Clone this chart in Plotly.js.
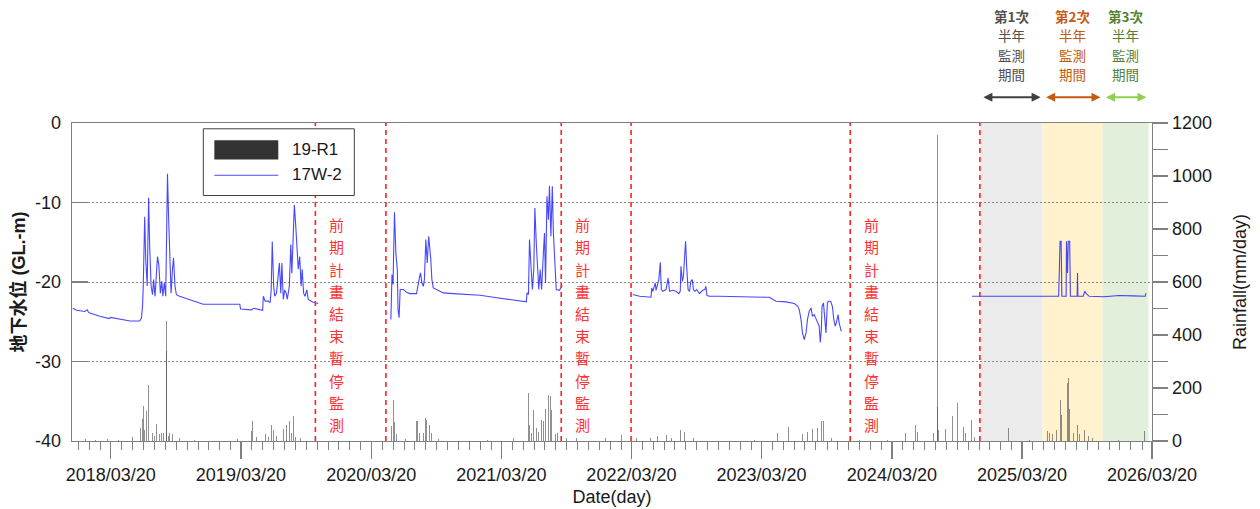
<!DOCTYPE html>
<html>
<head>
<meta charset="utf-8">
<script src="https://cdn.plot.ly/plotly-3.0.1.min.js"></script>
<style>html,body{margin:0;padding:0;background:#fff;}#chart{width:1260px;height:509px;}</style>
</head>
<body>
<div id="chart"></div>
<script>
// ---------------- DATA ----------------
// Groundwater level 17W-2 (GL.-m), four monitoring segments
const wl1Dates = ['2017-12-03','2017-12-14','2018-01-06','2018-01-13','2018-01-16','2018-01-20','2018-02-17','2018-03-15','2018-03-19','2018-04-14','2018-05-13','2018-06-09','2018-06-14','2018-06-17','2018-06-19','2018-06-23','2018-06-26','2018-06-30','2018-07-04','2018-07-07','2018-07-11','2018-07-15','2018-07-18','2018-07-22','2018-07-26','2018-07-29','2018-08-02','2018-08-06','2018-08-10','2018-08-13','2018-08-17','2018-08-21','2018-08-24','2018-08-26','2018-08-29','2018-09-01','2018-09-05','2018-09-09','2018-09-12','2018-09-16','2018-09-20','2018-09-29','2018-10-18','2018-11-15','2018-12-04','2019-01-20','2019-03-17','2019-03-19','2019-04-19','2019-04-24','2019-05-20','2019-05-22','2019-05-27','2019-06-05','2019-06-10','2019-06-13','2019-06-16','2019-06-20','2019-06-23','2019-06-28','2019-07-02','2019-07-06','2019-07-10','2019-07-13','2019-07-17','2019-07-21','2019-07-25','2019-07-28','2019-08-03','2019-08-07','2019-08-10','2019-08-14','2019-08-17','2019-08-21','2019-08-24','2019-08-28','2019-09-01','2019-09-05','2019-09-08','2019-09-12','2019-09-16','2019-09-21','2019-09-25','2019-10-09','2019-10-23'];
const wl1Vals = [-23.3,-23.55,-23.7,-23.5,-23.8,-23.9,-24.3,-24.6,-24.45,-24.7,-24.9,-24.9,-24.5,-23.0,-20.5,-11.8,-17.2,-20.5,-9.4,-15.5,-20.5,-21.6,-19.7,-21.8,-18.4,-16.8,-18.0,-21.4,-19.9,-21.8,-20.1,-21.8,-12.6,-6.4,-11.7,-17.2,-21.4,-18.4,-17.0,-20.5,-21.6,-21.8,-22.1,-22.55,-22.8,-22.8,-22.8,-23.4,-23.5,-23.3,-23.55,-21.8,-22.4,-22.4,-22.6,-21.0,-14.9,-20.5,-21.8,-21.4,-18.9,-17.6,-21.4,-17.6,-22.2,-21.0,-21.4,-22.2,-20.5,-15.3,-18.9,-12.6,-10.3,-13.0,-15.1,-18.4,-16.8,-20.5,-18.4,-21.4,-21.8,-21.0,-22.2,-22.55,-22.7];

const wl2Dates = ['2020-05-14','2020-05-17','2020-05-20','2020-05-24','2020-05-28','2020-06-01','2020-06-03','2020-06-06','2020-06-09','2020-06-18','2020-06-27','2020-07-06','2020-07-25','2020-07-28','2020-08-01','2020-08-05','2020-08-09','2020-08-13','2020-08-16','2020-08-20','2020-08-24','2020-08-28','2020-09-01','2020-09-03','2020-09-06','2020-09-10','2020-09-19','2020-10-08','2020-11-05','2020-12-13','2021-01-19','2021-02-26','2021-04-02','2021-05-10','2021-05-29','2021-05-31','2021-06-04','2021-06-07','2021-06-11','2021-06-15','2021-06-19','2021-06-22','2021-06-26','2021-06-30','2021-07-03','2021-07-07','2021-07-11','2021-07-15','2021-07-19','2021-07-22','2021-07-26','2021-07-30','2021-08-02','2021-08-06','2021-08-10','2021-08-13','2021-08-17','2021-08-21','2021-08-30','2021-09-04','2021-09-07'];
const wl2Vals = [-24.73,-19.07,-20.3,-11.23,-16.35,-18.44,-23.47,-24.5,-20.95,-20.95,-21.3,-21.46,-21.46,-20.54,-19.7,-18.86,-20.1,-20.54,-19.7,-14.67,-17.6,-14.25,-15.93,-17.18,-19.7,-20.74,-20.95,-21.37,-21.46,-21.58,-21.67,-21.92,-22.13,-22.34,-22.5,-21.37,-21.58,-14.67,-17.18,-20.95,-18.44,-10.69,-15.09,-19.7,-20.95,-18.44,-20.95,-17.18,-13.83,-20.1,-9.22,-12.16,-7.88,-14.25,-7.97,-13.83,-18.44,-20.95,-21.04,-20.74,-20.45];

const wl3Dates = ['2022-03-24','2022-04-12','2022-05-14','2022-05-16','2022-05-19','2022-05-23','2022-05-26','2022-05-28','2022-06-01','2022-06-05','2022-06-09','2022-06-12','2022-06-16','2022-06-25','2022-07-01','2022-07-05','2022-07-14','2022-07-23','2022-07-31','2022-08-04','2022-08-06','2022-08-10','2022-08-13','2022-08-17','2022-08-19','2022-08-22','2022-08-26','2022-08-30','2022-09-03','2022-09-07','2022-09-10','2022-09-14','2022-09-19','2022-09-27','2022-10-06','2022-10-12','2022-10-15','2022-10-18','2022-10-25','2022-11-22','2022-12-20','2023-01-17','2023-02-23','2023-04-02','2023-04-12','2023-04-21','2023-04-30','2023-05-28','2023-06-16','2023-06-20','2023-06-30','2023-07-04','2023-07-09','2023-07-13','2023-07-18','2023-07-23','2023-07-27','2023-08-01','2023-08-06','2023-08-10','2023-08-15','2023-08-20','2023-08-25','2023-08-29','2023-09-01','2023-09-04','2023-09-06','2023-09-10','2023-09-13','2023-09-17','2023-09-21','2023-09-24','2023-09-30','2023-10-05','2023-10-09','2023-10-13','2023-10-16','2023-10-21','2023-10-24','2023-10-30'];
const wl3Vals = [-21.58,-21.8,-21.92,-20.74,-21.17,-20.54,-20.11,-21.04,-20.33,-19.7,-17.52,-20.95,-21.17,-20.95,-19.5,-21.17,-21.04,-21.17,-21.46,-21.17,-18.03,-19.91,-19.28,-15.09,-14.88,-18.03,-20.95,-21.17,-19.91,-19.7,-20.95,-21.17,-20.95,-21.46,-21.04,-20.95,-20.54,-21.71,-21.8,-21.8,-21.8,-21.88,-21.88,-21.92,-21.92,-22.21,-22.42,-22.5,-22.63,-22.71,-23.05,-23.47,-24.73,-26.4,-27.24,-26.4,-24.73,-23.68,-23.26,-24.31,-24.1,-24.73,-25.14,-25.56,-27.6,-25.98,-23.05,-22.63,-24.73,-26.4,-22.63,-22.42,-22.42,-23.05,-24.73,-25.56,-25.14,-24.1,-25.14,-26.2];

const wl4Dates = ['2024-10-31','2025-07-01','2025-07-03','2025-07-05','2025-07-08','2025-07-10','2025-07-22','2025-07-23','2025-07-26','2025-07-28','2025-08-01','2025-08-03','2025-08-22','2025-08-23','2025-08-24','2025-09-08','2025-09-12','2025-09-17','2025-09-25','2025-11-05','2025-12-18','2026-01-24','2026-03-01','2026-03-03'];
const wl4Vals = [-21.8,-21.8,-18.44,-14.88,-14.88,-21.8,-21.8,-14.88,-18.86,-14.88,-14.88,-21.8,-21.8,-18.86,-21.8,-21.8,-21.17,-21.5,-21.8,-21.85,-21.7,-21.75,-21.8,-21.4];

// Daily rainfall 19-R1 (mm/day)
const rainDates = ['2018-01-07','2018-02-05','2018-03-10','2018-04-10','2018-05-20','2018-06-12','2018-06-17','2018-06-19','2018-06-22','2018-06-28','2018-07-03','2018-07-08','2018-07-11','2018-07-15','2018-07-20','2018-07-27','2018-08-04','2018-08-10','2018-08-15','2018-08-23','2018-08-24','2018-08-28','2018-09-01','2018-09-08','2018-09-29','2018-11-10',
'2019-03-10','2019-04-18','2019-04-22','2019-05-02','2019-05-10','2019-05-21','2019-05-27','2019-06-05','2019-06-13','2019-06-19','2019-06-28','2019-07-08','2019-07-18','2019-07-25','2019-08-03','2019-08-09','2019-08-15','2019-08-20','2019-09-03',
'2020-05-16','2020-05-21','2020-05-25','2020-05-29','2020-06-03','2020-06-23','2020-07-04','2020-07-15','2020-07-24','2020-07-28','2020-08-03','2020-08-13','2020-08-18','2020-08-22','2020-08-26','2020-08-31','2020-09-05','2020-09-15','2020-09-25',
'2021-02-10','2021-04-22','2021-05-28','2021-06-04','2021-06-07','2021-06-12','2021-06-19','2021-06-26','2021-07-03','2021-07-11','2021-07-17','2021-07-22','2021-07-30','2021-08-04','2021-08-08','2021-08-12','2021-08-18','2021-08-25','2021-09-19','2021-10-17','2021-12-19',
'2022-01-06','2022-02-20','2022-04-03','2022-05-12','2022-06-01','2022-06-26','2022-07-10','2022-08-05','2022-08-16','2022-09-10','2022-11-15',
'2023-03-01','2023-05-05','2023-06-03','2023-07-13','2023-07-23','2023-07-27','2023-08-06','2023-08-11','2023-08-25','2023-09-04','2023-09-09','2023-09-14','2023-10-03','2023-12-20',
'2024-03-08','2024-04-27','2024-05-26','2024-05-31','2024-07-14','2024-07-19','2024-07-25','2024-07-26','2024-07-28','2024-08-17','2024-09-06','2024-09-21','2024-10-06','2024-10-13','2024-10-30','2024-11-06',
'2025-02-10','2025-04-10','2025-05-31','2025-06-06','2025-06-13','2025-06-26','2025-07-06','2025-07-09','2025-07-16','2025-07-25','2025-07-29','2025-08-01','2025-08-12','2025-08-24','2025-08-29','2025-09-12','2025-09-23','2025-10-03','2025-12-16','2026-02-28'];
const rainMm = [8,5,8,5,15,50,83,131,40,113,213,40,25,30,20,65,25,30,30,339,452,20,30,28,10,5,
8,37,75,15,20,71,25,15,62,40,20,25,44,62,74,30,94,15,10,
56,156,70,25,30,8,10,15,74,75,30,30,87,80,70,62,30,30,8,
5,10,87,182,60,30,118,50,35,81,75,119,175,169,118,60,25,30,10,10,8,
10,24,10,12,20,22,10,40,35,10,5,
5,30,53,25,25,35,90,45,50,74,74,30,10,5,
5,30,62,35,30,81,1156,130,40,44,94,144,52,30,81,15,
50,5,37,30,25,40,153,100,25,220,238,120,30,62,25,43,20,10,5,37];

// Monitoring pauses (前期計畫結束暫停監測) and half-year monitoring periods
const pauseStart = ['2019-10-15','2021-09-04','2023-11-24'];
const pauseEnd   = ['2020-04-30','2022-03-19','2024-11-22'];
const periodBounds = ['2024-11-22','2025-05-17','2025-11-01','2026-03-10'];
const periodNames = ['第1次','第2次','第3次'];
const periodLines = ['半年','監測','期間'];
const pauseText = '前期計畫結束暫停監測';

const yTickVals = [-40,-30,-20,-10,0];
const yTickText = ['-40','-30','-20','-10','0'];

// ---------------- STYLE ----------------
const periodFill = ['#ebebeb','#fff2cc','#e2efda'];
const periodTextColor = ['#505050','#c55a11','#548235'];
const periodArrowColor = ['#404040','#c55a11','#92d050'];
const lineColor = 'rgba(0,0,255,0.72)';
const axisGray = '#808080';
const cjk = 'Noto Sans CJK TC, Noto Sans CJK SC, sans-serif';
const latin = 'Liberation Sans, Arial, sans-serif';
const PLOT_H = 318;

const traces = [];
traces.push({
  type:'bar', x:rainDates, y:rainMm, yaxis:'y2', name:'19-R1',
  width: 86400000*2.2,
  marker:{color:'rgba(70,70,70,0.6)', line:{width:0}},
  hoverinfo:'x+y'
});
[[wl1Dates,wl1Vals],[wl2Dates,wl2Vals],[wl3Dates,wl3Vals],[wl4Dates,wl4Vals]].forEach(function(s){
  traces.push({type:'scatter', mode:'lines', x:s[0], y:s[1], yaxis:'y', name:'17W-2',
    line:{color:lineColor, width:1.1}});
});

const shapes = [];
for (let i=0;i<3;i++){
  shapes.push({type:'rect', xref:'x', yref:'paper', x0:periodBounds[i], x1:periodBounds[i+1], y0:0, y1:1,
    fillcolor:periodFill[i], line:{width:0}, layer:'below'});
}
pauseStart.concat(pauseEnd).forEach(function(d){
  shapes.push({type:'line', xref:'x', yref:'paper', x0:d, x1:d, y0:0, y1:1,
    line:{color:'#ff2020', width:1.6, dash:'5px,4px'}, layer:'above'});
});
// custom legend box
shapes.push({type:'rect', xref:'paper', yref:'paper', x0:0.1216, x1:0.2614, y0:0.772, y1:0.9818,
  fillcolor:'#ffffff', line:{color:'#404040', width:1}, layer:'above'});
shapes.push({type:'rect', xref:'paper', yref:'paper', x0:0.1318, x1:0.1910, y0:0.8852, y1:0.9459,
  fillcolor:'#333333', line:{width:0}, layer:'above'});
shapes.push({type:'line', xref:'paper', yref:'paper', x0:0.1318, x1:0.1910, y0:0.8358, y1:0.8358,
  line:{color:lineColor, width:1.1}, layer:'above'});

const annotations = [];
annotations.push({xref:'paper', yref:'paper', x:0.2019, y:0.9167, xanchor:'left', yanchor:'middle',
  text:'19-R1', showarrow:false, font:{family:latin, size:17, color:'#1a1a1a'}});
annotations.push({xref:'paper', yref:'paper', x:0.2019, y:0.838, xanchor:'left', yanchor:'middle',
  text:'17W-2', showarrow:false, font:{family:latin, size:17, color:'#1a1a1a'}});

// vertical red text, one character per annotation
const chars = pauseText.split('');
pauseStart.forEach(function(d){
  chars.forEach(function(ch, k){
    annotations.push({xref:'x', yref:'paper', x:d, xshift:21, y:0.366 + (4.5-k)*22.2/PLOT_H,
      xanchor:'center', yanchor:'middle', text:ch, showarrow:false,
      font:{family:cjk, size:15, color:'#ff3333'}});
  });
});

function mid(a,b){ return new Date((Date.parse(a)+Date.parse(b))/2).toISOString().slice(0,10); }
for (let i=0;i<3;i++){
  const xm = mid(periodBounds[i],periodBounds[i+1]);
  const lines = ['<b>'+periodNames[i]+'</b>'].concat(periodLines);
  lines.forEach(function(t,k){
    annotations.push({xref:'x', yref:'paper', x:xm, y:(441.5-(16+19.6*k))/PLOT_H,
      xanchor:'center', yanchor:'middle', showarrow:false, text:t,
      font:{family:cjk, size:13.5, color:periodTextColor[i]}});
  });
  annotations.push({xref:'x', yref:'paper', x:periodBounds[i+1], y:1.081, axref:'x', ayref:'pixel',
    ax:periodBounds[i], ay:0, text:'', showarrow:true, arrowside:'end+start', arrowhead:2, startarrowhead:2,
    arrowsize:1, startarrowsize:1, arrowwidth:1.8, arrowcolor:periodArrowColor[i], standoff:2, startstandoff:2});
}

const layout = {
  width:1260, height:509,
  margin:{l:72, r:108, t:123, b:68, pad:0},
  paper_bgcolor:'#ffffff', plot_bgcolor:'#ffffff',
  showlegend:false, bargap:0,
  font:{family:latin, size:18, color:'#1a1a1a'},
  xaxis:{type:'date', range:['2017-12-01','2026-03-20'], tick0:'2018-03-20', dtick:'M12', tickformat:'%Y/%m/%d',
    ticks:'outside', ticklen:17, tickwidth:1.3, tickcolor:axisGray,
    showline:true, linecolor:axisGray, linewidth:1.3, mirror:true, showgrid:false, zeroline:false,
    tickfont:{family:latin, size:18, color:'#1a1a1a'},
    minor:{dtick:'M1', tick0:'2018-03-20', ticks:'outside', ticklen:8, tickwidth:1, tickcolor:axisGray, showgrid:false},
    title:{text:'Date(day)', font:{family:latin, size:18, color:'#1a1a1a'}, standoff:6}},
  yaxis:{range:[-40,0], tickvals:yTickVals, ticktext:yTickText, ticks:'inside', ticklen:16, tickwidth:1.3, tickcolor:axisGray,
    showline:true, linecolor:axisGray, linewidth:1.3, showgrid:true, gridcolor:'#8a8a8a', griddash:'2px,2px', gridwidth:1,
    zeroline:false, tickfont:{family:latin, size:18, color:'#1a1a1a'}, ticklabelstandoff:6,
    title:{text:'<b>地下水位 (GL.-m)</b>', font:{family:'Liberation Sans, Noto Sans CJK TC, sans-serif', size:18, color:'#1a1a1a'}, standoff:4}},
  yaxis2:{overlaying:'y', side:'right', range:[0,1200], dtick:200, ticks:'outside', ticklen:15, tickwidth:1.3, tickcolor:axisGray,
    minor:{dtick:100, ticks:'outside', ticklen:15, tickwidth:1.3, tickcolor:axisGray, showgrid:false},
    showline:true, linecolor:axisGray, linewidth:1.3, showgrid:false, zeroline:false,
    tickfont:{family:latin, size:18, color:'#1a1a1a'},
    title:{text:'Rainfall(mm/day)', font:{family:latin, size:18, color:'#1a1a1a'}, standoff:22}},
  shapes:shapes, annotations:annotations
};

Plotly.newPlot('chart', traces, layout, {staticPlot:true, displayModeBar:false});
</script>
</body>
</html>
